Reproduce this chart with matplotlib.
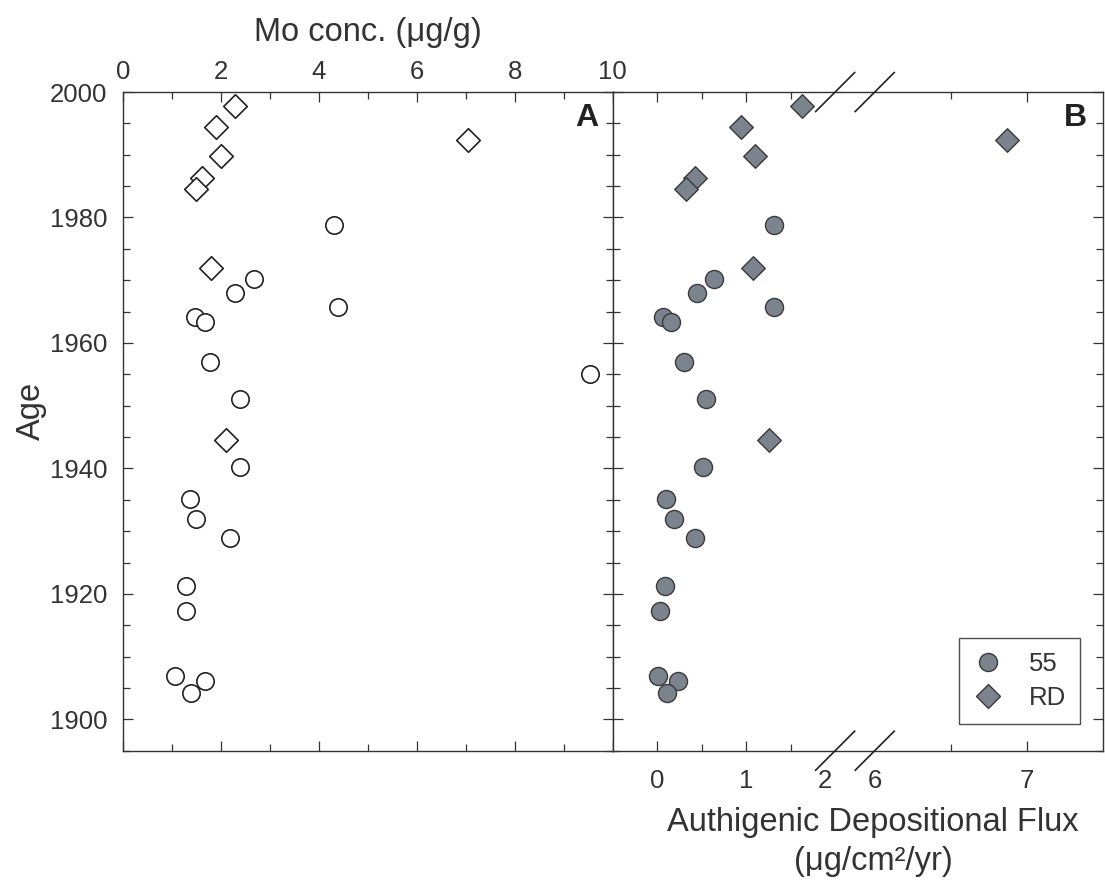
import numpy as np
import matplotlib
matplotlib.use('Agg')
import matplotlib.pyplot as plt
from matplotlib.lines import Line2D
from matplotlib.ticker import MultipleLocator, FixedLocator, FixedFormatter
from matplotlib.transforms import ScaledTranslation

plt.rcParams['font.family'] = ['Liberation Sans', 'DejaVu Sans']

INK = '#333333'
FILL = '#7b838c'

# core 55 (circles)
age_55 = [1978.8, 1970.2, 1968.0, 1965.8, 1964.2, 1963.3, 1957.0, 1955.0, 1951.0,
          1940.3, 1935.2, 1932.0, 1928.9, 1921.3, 1917.2, 1906.9, 1906.1, 1904.2]
conc_55 = [4.30, 2.68, 2.28, 4.40, 1.47, 1.68, 1.78, 9.53, 2.38,
           2.38, 1.37, 1.49, 2.19, 1.28, 1.28, 1.07, 1.68, 1.38]
flux_55 = [1.31, 0.64, 0.45, 1.31, 0.07, 0.16, 0.30, np.nan, 0.55,
           0.51, 0.10, 0.19, 0.43, 0.09, 0.03, 0.01, 0.23, 0.11]

# core RD (diamonds)
age_rd = [1997.7, 1994.5, 1992.3, 1989.8, 1986.3, 1984.6, 1972.0, 1944.5]
conc_rd = [2.29, 1.90, 7.04, 2.01, 1.61, 1.49, 1.79, 2.11]
flux_rd = [1.63, 0.94, 6.87, 1.10, 0.42, 0.32, 1.08, 1.26]

flux_ticks = [0, 1, 2, 6, 7]
flux_labels = ['0', '1', '2', '6', '7']

# broken flux axis: 2..6 squeezed into a small gap
BRK_LO, BRK_HI, GAP, STRETCH = 2.0, 6.0, 0.445, 1.708


def fwd(x):
    x = np.asarray(x, dtype=float)
    return np.where(x <= BRK_LO, x,
                    np.where(x >= BRK_HI, BRK_LO + GAP + (x - BRK_HI) * STRETCH,
                             BRK_LO + (x - BRK_LO) / (BRK_HI - BRK_LO) * GAP))


def inv(u):
    u = np.asarray(u, dtype=float)
    return np.where(u <= BRK_LO, u,
                    np.where(u >= BRK_LO + GAP, BRK_HI + (u - BRK_LO - GAP) / STRETCH,
                             BRK_LO + (u - BRK_LO) / GAP * (BRK_HI - BRK_LO)))


fig = plt.figure(figsize=(11.05, 8.84), dpi=100)
axA = fig.add_axes([0.1113, 0.1508, 0.4432, 0.7451])
axB = fig.add_axes([0.5545, 0.1508, 0.4434, 0.7451])

for ax in (axA, axB):
    for s in ax.spines.values():
        s.set_color(INK)
        s.set_linewidth(1.0)
    ax.set_ylim(1895, 2000)
    ax.yaxis.set_major_locator(MultipleLocator(20))
    ax.yaxis.set_minor_locator(MultipleLocator(5))
    ax.tick_params(which='both', direction='in', color=INK, width=0.9,
                   labelcolor=INK, labelsize=18.5, top=True, bottom=True,
                   left=True, right=True)
    ax.tick_params(which='major', length=7.5)
    ax.tick_params(which='minor', length=4.8)

# ---- panel A
axA.scatter(conc_55, age_55, s=12.5 ** 2, marker='o', facecolor='white',
            edgecolor='#222222', linewidth=1.2, zorder=3)
axA.scatter(conc_rd, age_rd, s=12 ** 2, marker='D', facecolor='white',
            edgecolor='#222222', linewidth=1.2, zorder=3)
axA.set_xlim(0, 10)
axA.xaxis.set_major_locator(MultipleLocator(2))
axA.xaxis.set_minor_locator(MultipleLocator(1))
axA.tick_params(axis='x', labeltop=True, labelbottom=False, pad=5.8)
axA.tick_params(axis='y', pad=11.5)
axA.xaxis.set_label_position('top')
axA.set_xlabel('Mo conc. (μg/g)', fontsize=23.5, color=INK)
axA.xaxis.set_label_coords(0.5, 1.078)
axA.set_ylabel('Age', fontsize=23.5, color=INK)
axA.yaxis.set_label_coords(-0.155, 0.516)
axA.text(0.970, 0.983, 'A', transform=axA.transAxes, ha='right', va='top',
         fontsize=23, fontweight='bold', color='#222222')

# ---- panel B
axB.set_xscale('function', functions=(fwd, inv))
axB.scatter(flux_55, age_55, s=13 ** 2, marker='o', facecolor=FILL,
            edgecolor='#3a3a3a', linewidth=1.0, zorder=3)
axB.scatter(flux_rd, age_rd, s=12 ** 2, marker='D', facecolor=FILL,
            edgecolor='#3a3a3a', linewidth=1.0, zorder=3)
axB.set_xlim(-0.5, 7.5)
axB.xaxis.set_major_locator(FixedLocator(flux_ticks))
axB.xaxis.set_major_formatter(FixedFormatter(flux_labels))
axB.xaxis.set_minor_locator(FixedLocator([0.5, 1.5, 6.5]))
axB.tick_params(axis='y', labelleft=False)
axB.tick_params(axis='x', pad=13.5)
axB.set_xlabel('Authigenic Depositional Flux\n(μg/cm²/yr)', fontsize=23.5,
               color=INK, linespacing=1.35)
axB.xaxis.set_label_coords(0.531, -0.0855, transform=axB.transAxes)
axB.xaxis.label.set_va('top')
axB.text(0.968, 0.983, 'B', transform=axB.transAxes, ha='right', va='top',
         fontsize=23, fontweight='bold', color='#222222')

ticks = axB.xaxis.get_major_ticks(len(flux_ticks))
for t, loc in zip(ticks, flux_ticks):
    if loc in (BRK_LO, BRK_HI):
        t.tick1line.set_visible(False)
        t.tick2line.set_visible(False)
    if loc == BRK_LO:
        t.label1.set_transform(t.label1.get_transform() +
                               ScaledTranslation(-0.10, 0, fig.dpi_scale_trans))

# break marks on top and bottom spines
u0, u1 = fwd(-0.5), fwd(7.5)
dx, dy = 19.5 / 490.0, 19.5 / 658.7
for xb in (BRK_LO, BRK_HI):
    xa = float((fwd(xb) - u0) / (u1 - u0))
    for yb in (0.0, 1.0):
        axB.plot([xa - dx, xa + dx], [yb - dy, yb + dy], color='#222222',
                 lw=1.2, transform=axB.transAxes, clip_on=False, zorder=5)

handles = [
    Line2D([], [], ls='none', marker='o', ms=13, mfc=FILL, mec='#3a3a3a', mew=1.0),
    Line2D([], [], ls='none', marker='D', ms=12, mfc=FILL, mec='#3a3a3a', mew=1.0),
]
leg = axB.legend(handles, ['55', 'RD'], loc='lower right',
                 bbox_to_anchor=(0.954, 0.0405), fontsize=18.5, frameon=True,
                 fancybox=False, edgecolor='#222222', borderpad=0.55,
                 handlelength=1.18, handletextpad=1.0, labelspacing=0.38,
                 borderaxespad=0)
leg.get_frame().set_linewidth(1.0)
for txt in leg.get_texts():
    txt.set_color(INK)

fig.savefig('out.png', dpi=100)
